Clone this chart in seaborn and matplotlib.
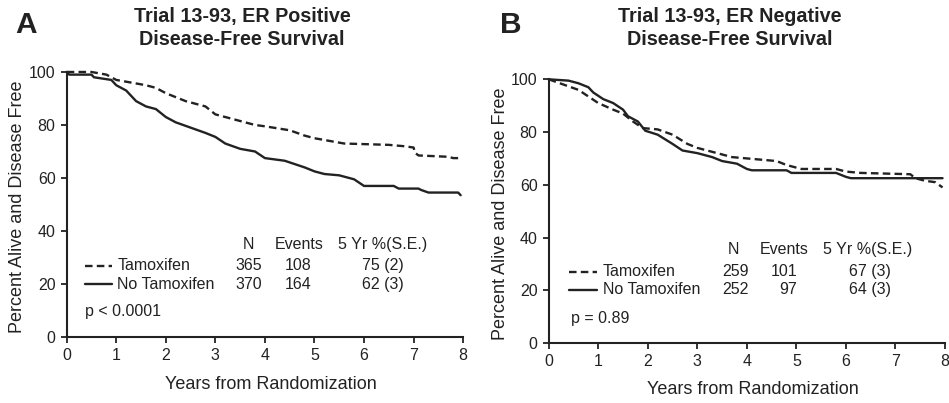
import numpy as np
import pandas as pd
import matplotlib
matplotlib.use("Agg")
import matplotlib.pyplot as plt
import seaborn as sns

# ---------------- data ----------------
# Panel A: ER positive
a_tam_t = [0, 0.5, 0.8, 1.0, 1.3, 1.6, 1.8, 2.0, 2.4, 2.8, 3.0, 3.4, 3.8, 4.0, 4.5, 4.8, 5.0, 5.3, 5.6, 6.5, 6.8, 7.0, 7.03, 7.1, 7.7, 7.8, 7.95]
a_tam_s = [100, 100, 99, 97, 96, 95, 94, 92, 89, 87, 84, 82, 80, 79.5, 78, 76, 75, 74, 73, 72.5, 72, 71.5, 69.5, 68.5, 68, 67.5, 67.5]
a_no_t = [0, 0.05, 0.5, 0.55, 0.9, 1.0, 1.2, 1.4, 1.6, 1.8, 2.0, 2.2, 2.5, 2.8, 3.0, 3.2, 3.5, 3.8, 4.0, 4.4, 4.8, 5.0, 5.2, 5.5, 5.8, 6.0, 6.6, 6.7, 7.1, 7.15, 7.3, 7.9, 7.95]
a_no_s = [100, 99, 99, 98, 97, 95, 93, 89, 87, 86, 83, 81, 79, 77, 75.5, 73, 71, 70, 67.5, 66.5, 64, 62.5, 61.5, 61, 59.5, 57, 57, 56, 56, 55.5, 54.5, 54.5, 53.5]

# Panel B: ER negative
b_tam_t = [0, 0.3, 0.6, 0.8, 1.0, 1.3, 1.5, 1.7, 1.9, 2.2, 2.5, 2.8, 3.0, 3.4, 3.7, 4.0, 4.6, 4.8, 5.1, 5.8, 6.0, 6.3, 7.3, 7.4, 7.6, 7.8, 7.95]
b_tam_s = [100, 98, 96, 93.5, 91, 88.5, 87, 84, 81.5, 81, 79, 75.5, 74, 72, 70.5, 70, 69, 67.5, 66, 66, 65, 64.5, 64, 62.5, 61.5, 61, 59]
b_no_t = [0, 0.4, 0.6, 0.8, 0.9, 1.1, 1.3, 1.5, 1.6, 1.8, 1.95, 2.2, 2.5, 2.7, 3.0, 3.3, 3.5, 3.8, 4.0, 4.1, 4.8, 4.9, 5.8, 6.0, 6.1, 7.95]
b_no_s = [100, 99.5, 98.5, 97, 95, 92.5, 91, 88.5, 86, 84, 80.5, 79, 75.5, 73, 72, 70.5, 69, 68, 66, 65.5, 65.5, 64.5, 64.5, 63, 62.5, 62.5]

groups = ["Tamoxifen", "No Tamoxifen"]
panel_letters = ["A", "B"]
titles = [["Trial 13-93, ER Positive", "Disease-Free Survival"],
          ["Trial 13-93, ER Negative", "Disease-Free Survival"]]
table_header = ["N", "Events", "5 Yr %(S.E.)"]
a_n = ["365", "370"]; a_events = ["108", "164"]; a_5yr = ["75 (2)", "62 (3)"]
b_n = ["259", "252"]; b_events = ["101", "97"]; b_5yr = ["67 (3)", "64 (3)"]
p_values = ["p < 0.0001", "p = 0.89"]
xticks = list(range(0, 9))
yticks = list(range(0, 101, 20))

# ---------------- styling ----------------
sns.set_theme(style="ticks")
plt.rcParams["font.family"] = ["Liberation Sans", "DejaVu Sans"]
INK = "#222222"
plt.rcParams.update({
    "text.color": INK, "axes.labelcolor": INK, "xtick.color": INK,
    "ytick.color": INK, "axes.edgecolor": INK,
})

fig = plt.figure(figsize=(9.49, 4.03), dpi=100)
axA = fig.add_axes([0.0703, 0.1638, 0.4177, 0.6576])
axB = fig.add_axes([0.5782, 0.1489, 0.4176, 0.6543])

def make_df(tt, ts, nt, ns):
    return pd.concat([
        pd.DataFrame({"t": tt, "s": ts, "g": groups[0]}),
        pd.DataFrame({"t": nt, "s": ns, "g": groups[1]}),
    ], ignore_index=True)

dfs = [make_df(a_tam_t, a_tam_s, a_no_t, a_no_s),
       make_df(b_tam_t, b_tam_s, b_no_t, b_no_s)]

tables = [
    dict(n=a_n, ev=a_events, yr=a_5yr,
         hy=35.0, ry=[26.9, 19.9], nh=3.66, eh=4.70, yh=5.48,
         nr=3.94, er=4.95, yr_r=6.81, l0=0.37, l1=0.91, lab=1.02, px=0.37, py=9.5,
         ylab=(-0.123, 0.49), xlab=(0.515, -0.181)),
    dict(n=b_n, ev=b_events, yr=b_5yr,
         hy=35.5, ry=[27.0, 20.1], nh=3.72, eh=4.76, yh=5.53,
         nr=4.03, er=5.02, yr_r=6.90, l0=0.41, l1=0.97, lab=1.09, px=0.44, py=9.4,
         ylab=(-0.121, 0.489), xlab=(0.516, -0.178)),
]

DASH = (3.2, 1.8)
FS = 11.5

for i, ax in enumerate([axA, axB]):
    sns.lineplot(data=dfs[i], x="t", y="s", style="g", style_order=groups,
                 dashes={groups[0]: DASH, groups[1]: ""},
                 color=INK, lw=1.7, estimator=None, sort=False,
                 clip_on=False, legend=False, ax=ax)
    ax.set_xlim(0, 8)
    ax.set_ylim(0, 100)
    ax.set_xticks(xticks)
    ax.set_yticks(yticks)
    ax.tick_params(axis="both", labelsize=FS, width=1.3, length=4, direction="out", pad=4)
    for sp in ["top", "right"]:
        ax.spines[sp].set_visible(False)
    for sp in ["left", "bottom"]:
        ax.spines[sp].set_linewidth(1.5)
    ax.set_xlabel("Years from Randomization", fontsize=13)
    ax.set_ylabel("Percent Alive and Disease Free", fontsize=13)
    T = tables[i]
    ax.yaxis.set_label_coords(*T["ylab"])
    ax.yaxis.label.set_va("center")
    ax.xaxis.set_label_coords(*T["xlab"])
    ax.xaxis.label.set_va("center")

    # table-like legend
    ax.text(T["nh"], T["hy"], table_header[0], ha="center", va="center", fontsize=FS)
    ax.text(T["eh"], T["hy"], table_header[1], ha="center", va="center", fontsize=FS)
    ax.text(T["yh"], T["hy"], table_header[2], ha="left", va="center", fontsize=FS)
    for r in range(2):
        y = T["ry"][r]
        ax.plot([T["l0"], T["l1"]], [y, y], color=INK, lw=1.7,
                dashes=DASH if r == 0 else (None, None), linestyle="--" if r == 0 else "-")
        ax.text(T["lab"], y, groups[r], ha="left", va="center", fontsize=FS)
        ax.text(T["nr"], y, T["n"][r], ha="right", va="center", fontsize=FS)
        ax.text(T["er"], y, T["ev"][r], ha="right", va="center", fontsize=FS)
        ax.text(T["yr_r"], y, T["yr"][r], ha="right", va="center", fontsize=FS)
    ax.text(T["px"], T["py"], p_values[i], ha="left", va="center", fontsize=FS)

# titles & panel letters
title_x = [0.255, 0.769]
letter_x = [0.0158, 0.527]
for i in range(2):
    fig.text(title_x[i], 1 - 21.7 / 403, titles[i][0], ha="center", va="baseline",
             fontsize=14.2, fontweight="bold")
    fig.text(title_x[i], 1 - 45.3 / 403, titles[i][1], ha="center", va="baseline",
             fontsize=14.2, fontweight="bold")
    fig.text(letter_x[i], 1 - 33.3 / 403, panel_letters[i], ha="left", va="baseline",
             fontsize=21.5, fontweight="bold")

fig.savefig("out.png", dpi=100)
